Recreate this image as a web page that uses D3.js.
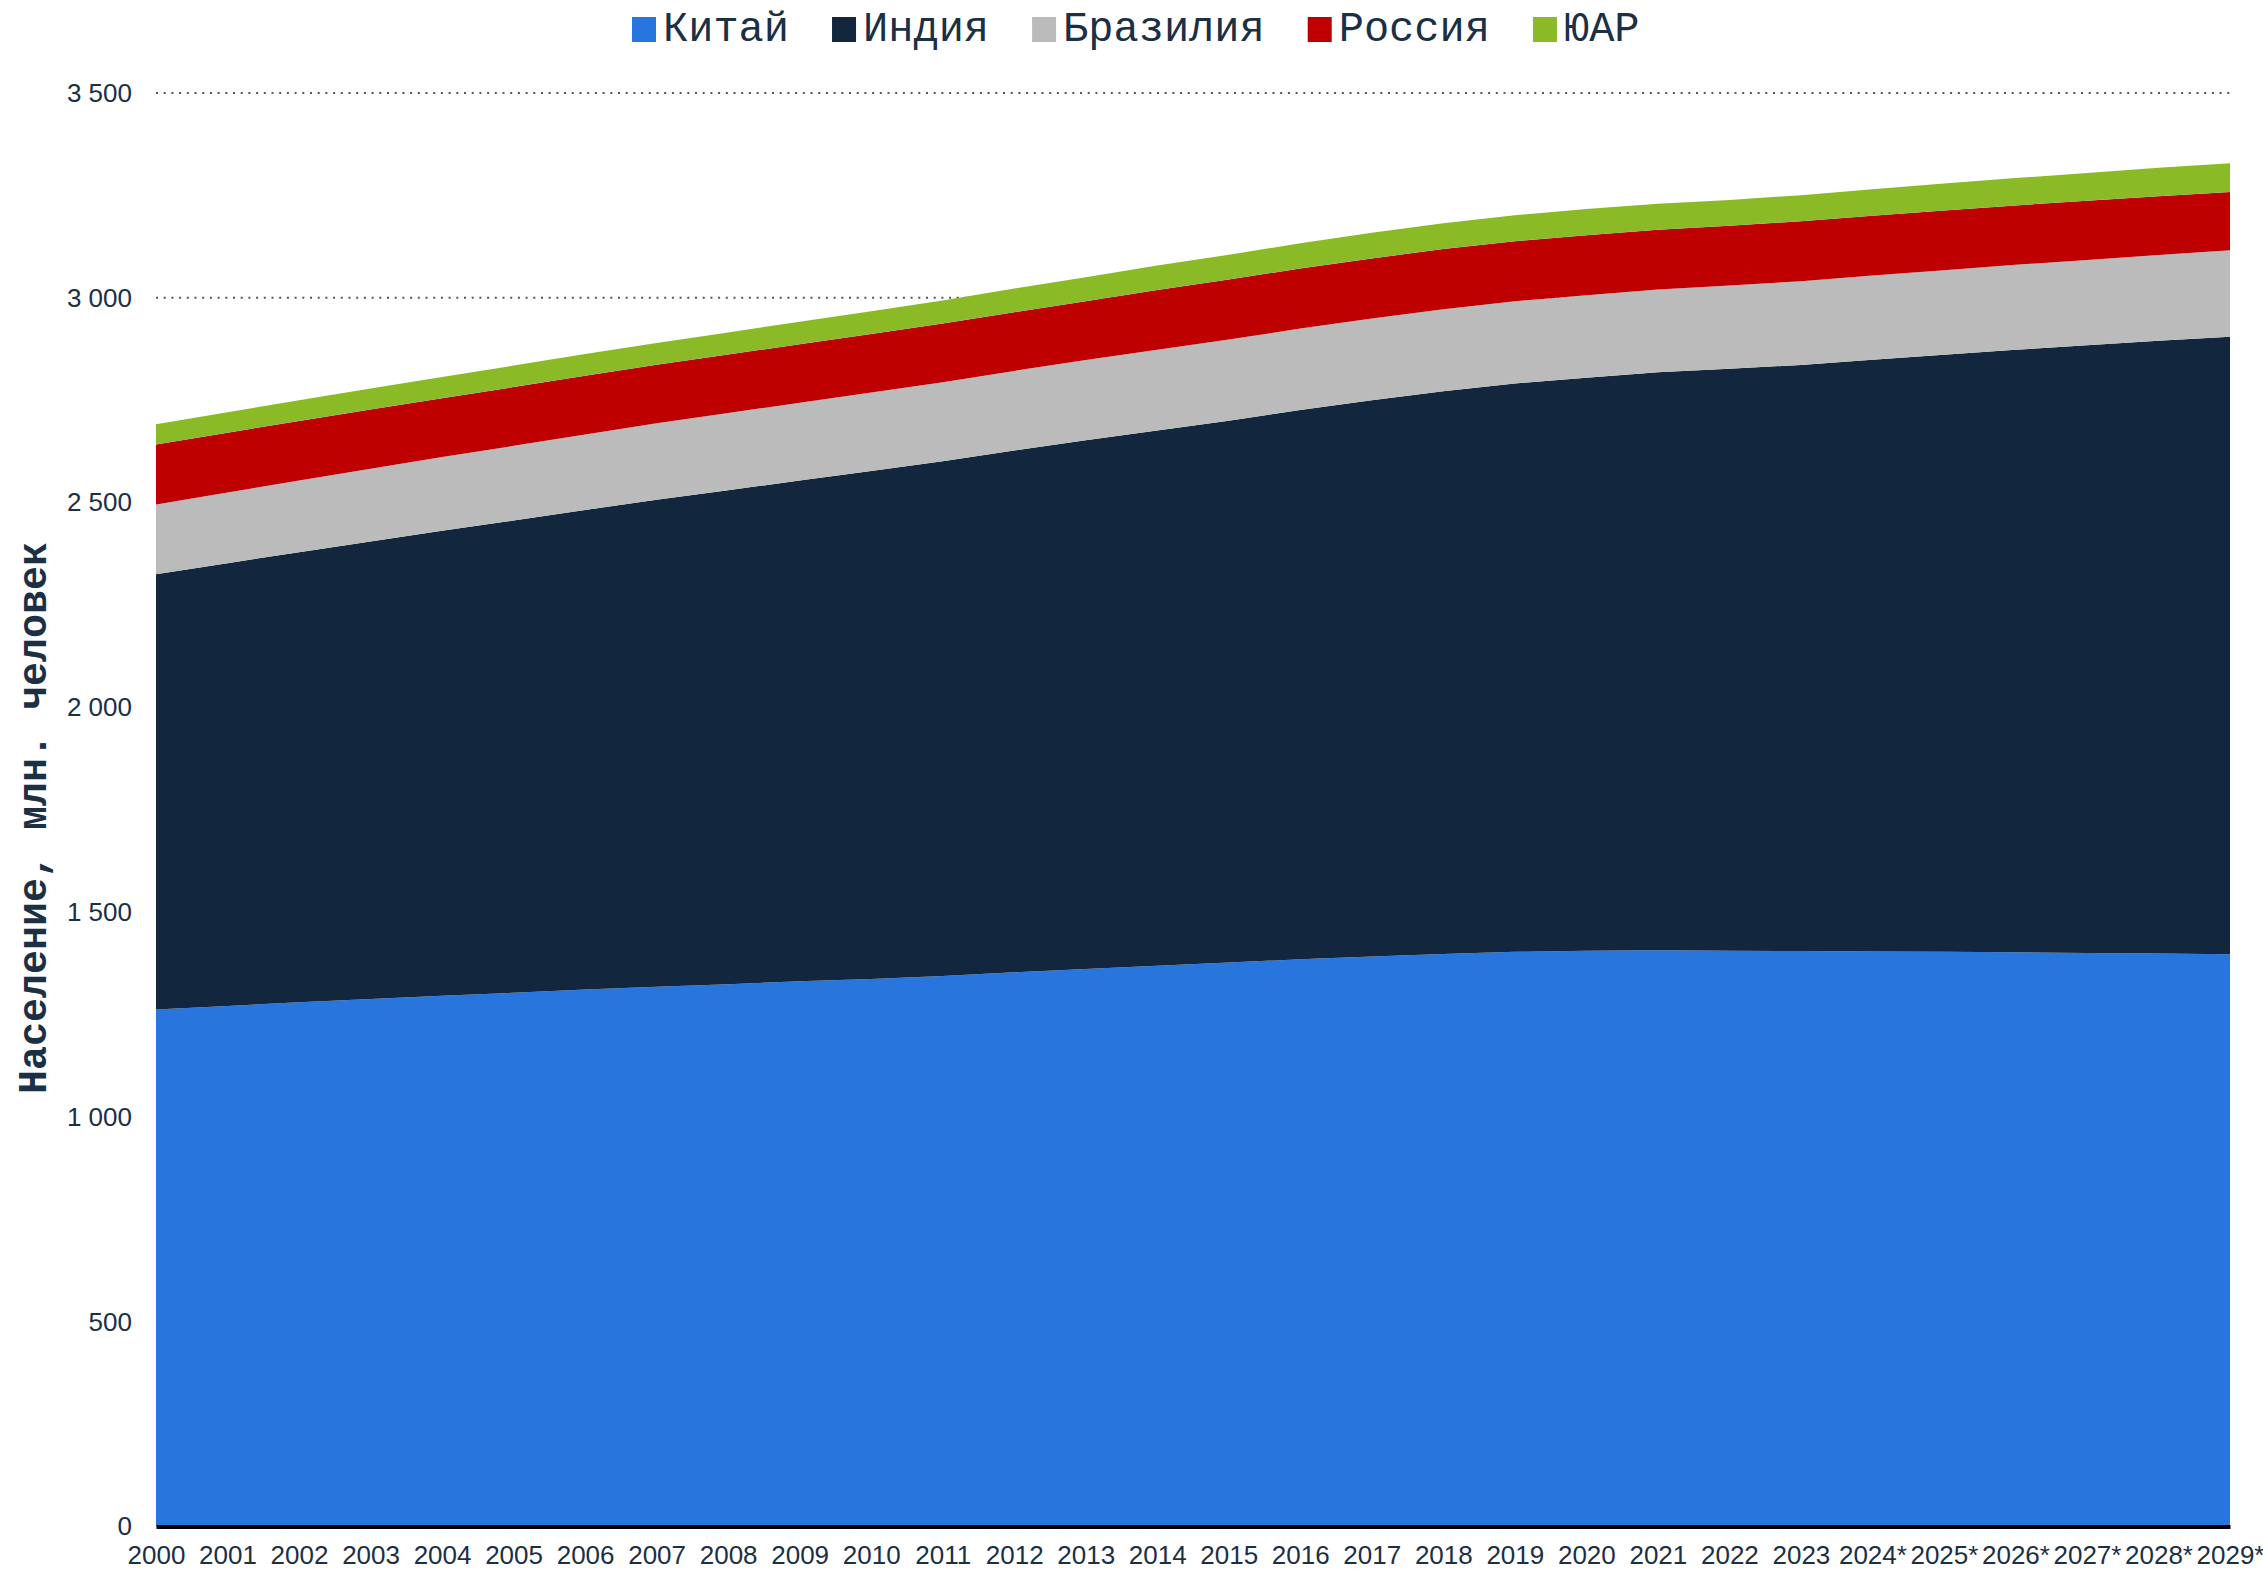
<!DOCTYPE html>
<html>
<head>
<meta charset="utf-8">
<script src="https://cdn.jsdelivr.net/npm/d3@7"></script>
<style>
  body { margin: 0; background: #fff; }
  text { fill: #1b2f45; }
</style>
</head>
<body>
<svg id="chart"></svg>
<script>
// data, million people
const years = ["2000", "2001", "2002", "2003", "2004", "2005", "2006", "2007", "2008", "2009",
  "2010", "2011", "2012", "2013", "2014", "2015", "2016", "2017", "2018", "2019",
  "2020", "2021", "2022", "2023", "2024*", "2025*", "2026*", "2027*", "2028*", "2029*"]

const china = [1262, 1271, 1280, 1288, 1296, 1303, 1311, 1318, 1324, 1331,
  1337, 1344, 1353, 1361, 1369, 1377, 1385, 1392, 1398, 1403,
  1406, 1407, 1406, 1405, 1404, 1403, 1402, 1400, 1399, 1397]

const india = [1063, 1081, 1099, 1117, 1135, 1153, 1171, 1189, 1206, 1223,
  1240, 1257, 1274, 1291, 1307, 1323, 1341, 1358, 1374, 1388,
  1399, 1411, 1421, 1431, 1445, 1458, 1471, 1484, 1496, 1508]

const brazil = [170, 172.5, 175, 177.5, 180, 182.5, 184.5, 186.5, 188.5, 190,
  191.5, 193, 194.5, 196, 197, 198, 198.8, 199.3, 200, 200.5,
  201, 202, 203, 204.4, 205.5, 206.5, 207.5, 208.5, 209.7, 210.8]

const russia = [146.6, 146.0, 145.3, 144.6, 144.0, 143.5, 143.0, 142.8, 142.8, 142.8,
  142.9, 143.0, 143.3, 143.7, 146.3, 146.5, 146.8, 146.9, 146.9, 146.8,
  146.7, 146.2, 145.6, 146.4, 146.1, 145.6, 145.0, 144.4, 143.5, 142.6]

const southAfrica = [49.6, 50.1, 50.6, 51.2, 51.8, 52.4, 53.0, 53.6, 54.2, 54.7,
  55.5, 56.5, 57.6, 58.7, 59.7, 60.6, 61.4, 62.5, 63.0, 63.3,
  63.8, 63.6, 63.4, 63.6, 64.6, 65.7, 66.8, 67.9, 69.0, 70.0]

const names = ["Китай", "Индия", "Бразилия", "Россия", "ЮАР"]
const colors = ["#2876dd", "#12273d", "#bbbbbb", "#bf0000", "#8aba26"]
const yTicks = [0, 500, 1000, 1500, 2000, 2500, 3000, 3500]

let series = [china, india, brazil, russia, southAfrica]

let rows = years.map(function(y, i) {
  let row = { year: y }
  names.forEach(function(n, k) { row[n] = series[k][i] })
  return row
})

let width = 2263
let height = 1573
let margin = { top: 93, right: 33, bottom: 45, left: 156 }
let mono = "'Liberation Mono', 'DejaVu Sans Mono', monospace"
let sans = "'Liberation Sans', Arial, sans-serif"

let svg = d3.select("#chart")
  .attr("width", width)
  .attr("height", height)

let x = d3.scalePoint()
  .domain(years)
  .range([margin.left, width - margin.right])

let y = d3.scaleLinear()
  .domain([0, 3500])
  .range([height - margin.bottom - 1.5, margin.top])

let stacked = d3.stack().keys(names)(rows)

let area = d3.area()
  .x(function(d) { return x(d.data.year) })
  .y0(function(d) { return y(d[0]) })
  .y1(function(d) { return y(d[1]) })

// dotted grid
svg.append("g")
  .selectAll("line")
  .data(yTicks.filter(function(t) { return t > 0 }))
  .enter()
  .append("line")
  .attr("x1", margin.left)
  .attr("x2", width - margin.right)
  .attr("y1", function(d) { return y(d) })
  .attr("y2", function(d) { return y(d) })
  .attr("stroke", "#555")
  .attr("stroke-width", 2)
  .attr("stroke-dasharray", "2 5.7")

svg.append("g")
  .selectAll("path")
  .data(stacked)
  .enter()
  .append("path")
  .attr("fill", function(d, i) { return colors[i] })
  .attr("d", area)

let fmt = function(d) { return d3.format(",")(d).replace(",", " ") }

let yAxis = d3.axisLeft(y)
  .tickValues(yTicks)
  .tickFormat(fmt)
  .tickSize(0)
  .tickPadding(24)

svg.append("g")
  .attr("id", "y-axis")
  .attr("transform", "translate(" + margin.left + ",0)")
  .call(yAxis)
  .call(function(g) { g.select(".domain").remove() })
  .selectAll("text")
  .attr("font-family", sans)
  .attr("font-size", 26)
  .style("fill", "#1b2f45")

let xAxis = d3.axisBottom(x)
  .tickSize(0)
  .tickSizeOuter(0)
  .tickPadding(19)

let xg = svg.append("g")
  .attr("id", "x-axis")
  .attr("transform", "translate(0," + y(0) + ")")
  .call(xAxis)

xg.select(".domain")
  .attr("stroke", "#000")
  .attr("stroke-width", 4)

xg.selectAll("text")
  .attr("font-family", sans)
  .attr("font-size", 26)
  .style("fill", "#1b2f45")

// axis title
svg.append("text")
  .attr("transform", "translate(46," + 818 + ") rotate(-90)")
  .attr("text-anchor", "middle")
  .attr("font-family", mono)
  .attr("font-weight", "bold")
  .attr("font-size", 40)
  .text("Население, млн. человек")

// legend
let legend = svg.append("g").attr("transform", "translate(632,0)")
let lx = 0
names.forEach(function(n, i) {
  legend.append("rect")
    .attr("x", lx)
    .attr("y", 17)
    .attr("width", 24)
    .attr("height", 25)
    .attr("fill", colors[i])
  let t = legend.append("text")
    .attr("x", lx + 31)
    .attr("y", 41)
    .attr("font-family", mono)
    .attr("font-size", 42)
    .text(n)
  lx += 31 + t.node().getComputedTextLength() + 43
})
</script>
</body>
</html>
